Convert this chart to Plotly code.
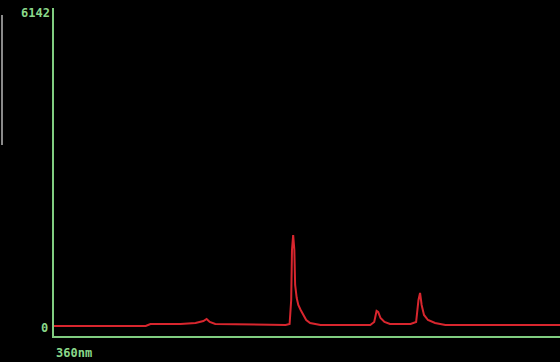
import plotly.graph_objects as go

# Spectrum samples: wavelength (nm) and detector counts
wavelength_nm = [360, 419, 476, 482, 520, 539, 549, 553, 557, 564, 621, 653, 658,
                 660, 661, 662.5, 664, 665, 667, 669, 672, 676, 679, 684, 697,
                 760, 765, 768, 770, 773, 778, 785, 811, 818, 821, 823, 825, 828,
                 833, 842, 855, 1000]
counts = [39, 39, 39, 78, 78, 98, 137, 176, 117, 78, 59, 59, 78,
          546, 1521, 1814, 1521, 839, 585, 449, 351, 234, 156, 98, 59,
          59, 117, 332, 312, 195, 117, 78, 78, 117, 546, 683, 449, 254,
          156, 98, 59, 59]

y_max_label = "6142"
y_min_label = "0"
x_start_label = "360nm"

AXIS_GREEN = "#80cc80"
TRACE_RED = "#d8262e"
LABEL_FONT = dict(family="DejaVu Sans Mono", size=12, color="#8ad88a")

fig = go.Figure(
    go.Scatter(
        x=wavelength_nm,
        y=counts,
        mode="lines",
        line=dict(color=TRACE_RED, width=2),
        hoverinfo="skip",
    )
)

fig.update_layout(
    width=560,
    height=362,
    margin=dict(l=54, r=0, t=8, b=26),
    paper_bgcolor="black",
    plot_bgcolor="black",
    showlegend=False,
    xaxis=dict(
        range=[360, 1000],
        showgrid=False,
        zeroline=False,
        showticklabels=False,
        ticks="",
        showline=True,
        linecolor=AXIS_GREEN,
        linewidth=2,
    ),
    yaxis=dict(
        range=[-156, 6240],
        showgrid=False,
        zeroline=False,
        showticklabels=False,
        ticks="",
        showline=True,
        linecolor=AXIS_GREEN,
        linewidth=2,
    ),
    annotations=[
        dict(text=f"<b>{y_max_label}</b>", x=0, xref="paper", y=6142, yref="y",
             xanchor="right", yanchor="middle", xshift=-2, showarrow=False,
             font=LABEL_FONT),
        dict(text=f"<b>{y_min_label}</b>", x=0, xref="paper", y=0, yref="y",
             xanchor="right", yanchor="middle", xshift=-4, showarrow=False,
             font=LABEL_FONT),
        dict(text=f"<b>{x_start_label}</b>", x=360, xref="x", y=0, yref="paper",
             xanchor="left", yanchor="top", xshift=0, yshift=-8, showarrow=False,
             font=LABEL_FONT),
    ],
    shapes=[
        # thin gray edge marker at the far left of the panel
        dict(type="line", xref="paper", yref="paper",
             x0=-52 / 506, x1=-52 / 506, y0=1 - 7 / 328, y1=1 - 137 / 328,
             line=dict(color="#8a8a8a", width=2)),
    ],
)

fig.write_html("out.html")
